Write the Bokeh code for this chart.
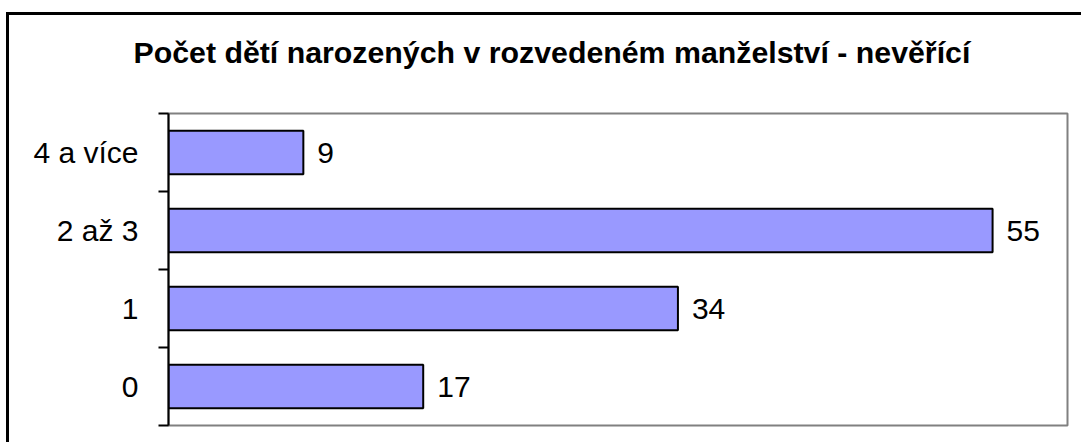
from bokeh.plotting import figure
from bokeh.models import Range1d, FixedTicker, ColumnDataSource, LabelSet, Title
from bokeh.core.properties import value
from bokeh.embed import file_html
from bokeh.resources import INLINE

categories = ["0", "1", "2 až 3", "4 a více"]
values = [17, 34, 55, 9]
title_text = "Počet dětí narozených v rozvedeném manželství - nevěřící"

ypos = [i + 0.5 for i in range(len(categories))]
src = ColumnDataSource(dict(y=ypos, v=values, lbl=[str(v) for v in values]))

FONT = "Liberation Sans"
N = len(categories)

p = figure(width=1075, height=430, output_backend="svg", toolbar_location=None,
           x_range=Range1d(0, 60), y_range=Range1d(0, N),
           min_border_left=159, min_border_right=17, min_border_top=98, min_border_bottom=20)

p.styles = {"position": "absolute", "left": "6px", "top": "12px",
            "border-left": "3px solid black", "border-top": "3px solid black"}

p.hbar(y="y", right="v", left=0, height=0.56, source=src,
       fill_color="#9999FF", line_color="black", line_width=2)

p.add_layout(LabelSet(x="v", y="y", text="lbl", source=src, x_offset=14,
                      text_baseline="middle", text_align="left",
                      text_font=value(FONT), text_font_size=value("30px"),
                      text_color="black"))

# spacing between plot area and title, then the title itself (stacked outward)
p.add_layout(Title(text=" ", text_font=FONT, text_font_size="10px", standoff=27), "above")
p.add_layout(Title(text=title_text, align="left", offset=-35, standoff=10,
                   text_font=FONT, text_font_size="30.3px", text_font_style="bold",
                   text_color="black"), "above")
p.title.visible = False

p.xaxis.visible = False
p.xgrid.visible = False
p.ygrid.visible = False

ya = p.yaxis[0]
ya.ticker = FixedTicker(ticks=ypos, minor_ticks=list(range(N + 1)))
ya.major_label_overrides = {y: c for y, c in zip(ypos, categories)}
ya.major_tick_in = 0
ya.major_tick_out = 0
ya.major_tick_line_color = None
ya.minor_tick_in = 0
ya.minor_tick_out = 10
ya.minor_tick_line_color = "black"
ya.minor_tick_line_width = 2
ya.axis_line_color = "black"
ya.axis_line_width = 2
ya.major_label_standoff = 20
ya.major_label_text_font = FONT
ya.major_label_text_font_size = "30px"
ya.major_label_text_color = "black"

p.outline_line_color = "#808080"
p.outline_line_width = 2
p.background_fill_color = "white"
p.border_fill_color = "white"

open("out.html", "w").write(file_html(p, INLINE))
